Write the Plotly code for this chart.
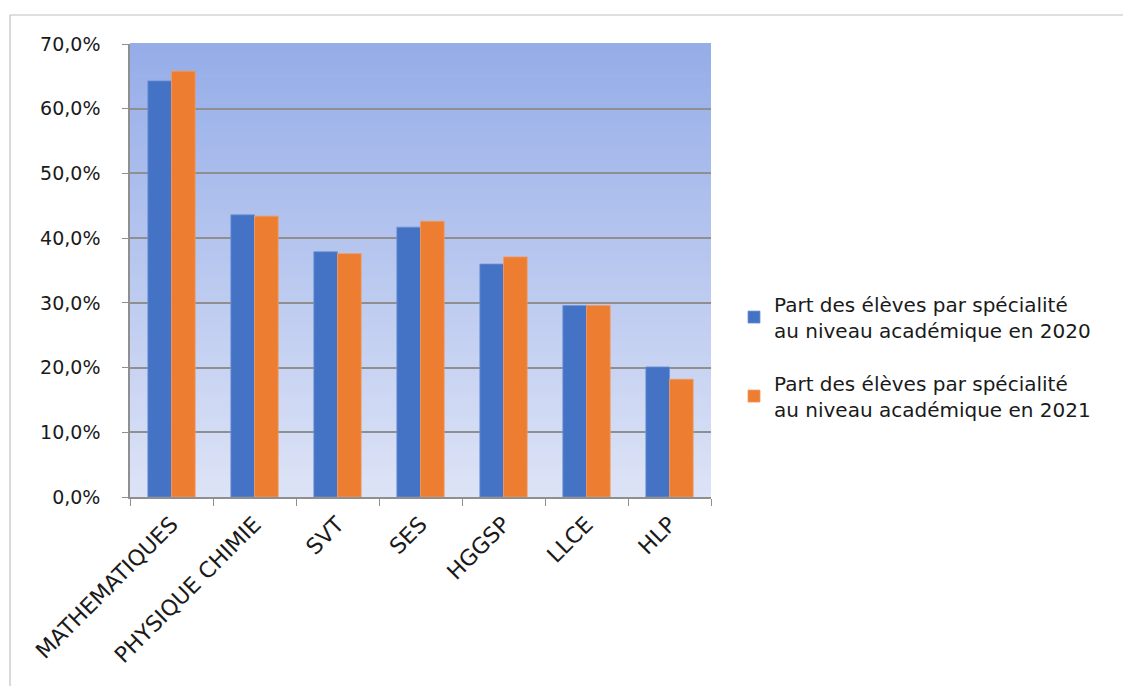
import plotly.graph_objects as go

categories = ["MATHEMATIQUES", "PHYSIQUE CHIMIE", "SVT", "SES", "HGGSP", "LLCE", "HLP"]
values_2020 = [0.643, 0.436, 0.379, 0.417, 0.360, 0.296, 0.201]
values_2021 = [0.658, 0.434, 0.376, 0.426, 0.371, 0.296, 0.182]
series_names = [
    "Part des élèves par spécialité<br>au niveau académique en 2020",
    "Part des élèves par spécialité<br>au niveau académique en 2021",
]
y_ticks = [0, 0.1, 0.2, 0.3, 0.4, 0.5, 0.6, 0.7]

W, H = 1123, 686
L, R, T, B = 130, 412, 44, 189
FONT = "DejaVu Sans"
TXT = "#1a1a1a"

fig = go.Figure()
fig.add_trace(go.Bar(x=categories, y=values_2020, name=series_names[0], legendgroup="a",
                     marker=dict(color="#4472C4", line=dict(width=0.8, color="#6f93d6"))))
fig.add_trace(go.Bar(x=categories, y=values_2021, name=series_names[1], legendgroup="b",
                     marker=dict(color="#ED7D31", line=dict(width=0.8, color="#f29b62"))))

# gradient background for plot area
top = (149, 173, 232)
bot = (221, 227, 246)
n = 90
shapes = []
for i in range(n):
    f = i / (n - 1)
    c = tuple(round(bot[k] + (top[k] - bot[k]) * f) for k in range(3))
    shapes.append(dict(type="rect", xref="paper", yref="paper",
                       x0=0, x1=1, y0=i / n, y1=(i + 1) / n + 0.002,
                       fillcolor="rgb(%d,%d,%d)" % c, line=dict(width=0), layer="below"))

pw = W - L - R
ph = H - T - B
# chart outer border
shapes.append(dict(type="rect", xref="paper", yref="paper",
                   x0=(10 - L) / pw, x1=(W + 5 - L) / pw,
                   y0=-(B + 10) / ph, y1=(H - 15 - B) / ph,
                   line=dict(color="#c0c0c0", width=1.2), fillcolor="rgba(0,0,0,0)", layer="below"))

fig.update_layout(
    width=W, height=H,
    margin=dict(l=L, r=R, t=T, b=B, pad=0),
    paper_bgcolor="white",
    plot_bgcolor="rgba(0,0,0,0)",
    separators=", ",
    barmode="group",
    bargap=0.43,
    bargroupgap=0,
    shapes=shapes,
    font=dict(family=FONT, color=TXT, size=18),
    legend=dict(
        x=(734 - L) / pw, xanchor="left", y=0.31, yanchor="middle",
        font=dict(family=FONT, size=20, color=TXT),
        tracegroupgap=24,
        bgcolor="rgba(0,0,0,0)",
    ),
    showlegend=True,
)
fig.update_yaxes(
    range=[0, 0.7], tickvals=y_ticks, tickformat=".1%",
    showgrid=True, gridcolor="#8f8f8f", gridwidth=1.5,
    showline=True, linecolor="#8f8f8f", linewidth=1.5,
    ticks="outside", ticklen=6, tickcolor="#8f8f8f", tickwidth=1.2,
    tickfont=dict(family=FONT, size=19, color=TXT),
    ticklabelstandoff=18,
    zeroline=False,
)
fig.update_xaxes(
    type="category", tickangle=-45, tickson="boundaries",
    showline=True, linecolor="#8f8f8f", linewidth=1.5,
    ticks="outside", ticklen=7, tickcolor="#8f8f8f", tickwidth=1.2,
    tickfont=dict(family=FONT, size=22, color=TXT),
    ticklabelstandoff=4,
    showgrid=False,
)

fig.write_html(
    "out.html",
    config={"displayModeBar": False},
    post_script="document.body.style.margin='0';document.documentElement.style.overflow='hidden';document.body.style.overflow='hidden';",
)
